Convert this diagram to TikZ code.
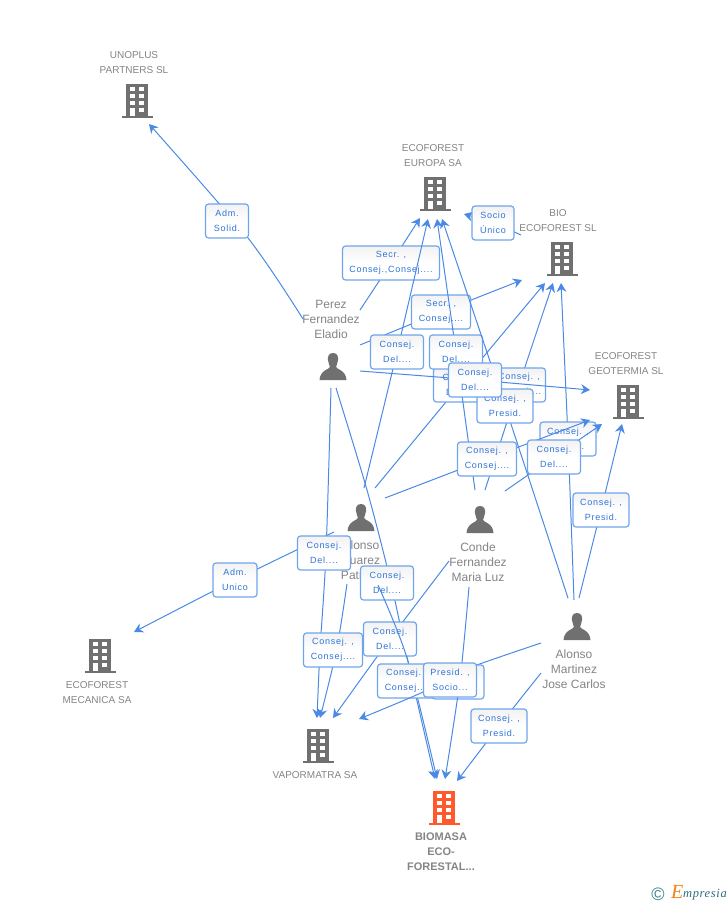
\documentclass[tikz,border=0pt]{standalone}
\usepackage{fontspec}
\setmainfont{Liberation Sans}
\newfontfamily\lblfont[LetterSpace=8]{Liberation Sans}
\newfontfamily\logofont[LetterSpace=5]{Liberation Serif}
\usetikzlibrary{arrows.meta}
\definecolor{edgeblue}{HTML}{4A8AE6}
\definecolor{boxblue}{HTML}{6FA5EC}
\definecolor{lblblue}{HTML}{2F74D8}
\definecolor{icongray}{HTML}{707070}
\definecolor{txtgray}{HTML}{858585}
\definecolor{bioorange}{HTML}{FF5A2C}
\definecolor{logoteal}{HTML}{3A7D8C}
\definecolor{logoink}{HTML}{2F6E7E}
\definecolor{logoorange}{HTML}{F08010}
\tikzset{
  x=1pt,y=-1pt,
  edge/.style={draw=edgeblue,line width=1pt,-{Stealth[length=9pt,width=10pt,inset=3pt]}},
  rolebox/.style={draw=boxblue,line width=1.2pt,rounded corners=3pt,top color=black!5,bottom color=white,middle color=white,
    minimum height=34pt,inner xsep=1pt,inner ysep=0pt,align=center,text=lblblue,font=\lblfont\fontsize{9}{15}\selectfont,
    execute at begin node={\rule{0pt}{10pt}}},
  coname/.style={text=txtgray,align=center,inner sep=0pt,font=\fontsize{10}{15}\selectfont},
  pername/.style={text=txtgray,align=center,inner sep=0pt,font=\fontsize{12}{15}\selectfont},
}
% cx, top y, colour
\newcommand\bldg[3]{\begin{scope}[shift={(#1,#2)}]
  \fill[#3] (-11,0) rectangle (11,32);
  \fill[#3] (-15.5,32) rectangle (15.5,34);
  \foreach \yy in {3.3,10,17}{\fill[white] (-7,\yy) rectangle (-2,\yy+4);\fill[white] (2,\yy) rectangle (7,\yy+4);}
  \fill[white] (2,23.5) rectangle (7,27.5);
  \fill[white] (-7,23.5) rectangle (-2,32);
\end{scope}}
% cx, top y
\newcommand\persn[2]{\begin{scope}[shift={(#1,#2)}]
  \fill[icongray] (0,0) .. controls (-4.5,0) and (-5.5,4) .. (-5,7) .. controls (-4.7,10) and (-3.5,12) .. (-3,14)
    .. controls (-3,16) and (-13,17) .. (-13.5,27) -- (13.5,27) .. controls (13,17) and (3,16) .. (3,14)
    .. controls (3.5,12) and (4.7,10) .. (5,7) .. controls (5.5,4) and (4.5,0) .. (0,0) -- cycle;
\end{scope}}
% start, end, via points, box position, width, text, box name
\newcommand\lnk[7]{\draw[edge] plot[smooth,tension=0.5] coordinates {(#1) #3 (#2)};
  \node[rolebox,minimum width=#5] (#7) at (#4) {#6};}
\begin{document}
\begin{tikzpicture}
\useasboundingbox (0,0) rectangle (728,905);
\fill[white] (0,0) rectangle (728,905);
% ports and free ends
\foreach \n/\p in {perezU/{303,319},perezB/{360,310},perezC/{360,345},perezD/{360,371},perezO/{331,388},perezR/{336,388},
  suarezE/{364,488},suarezG/{375,488},suarezJ/{385,498},suarezP/{334,532},suarezQ/{347,584},suarezS/{378,585},
  condeF/{475,490},condeH/{485,490},condeL/{505,491},condeV/{449,561},condeU/{469,587},
  martI/{568,598},martK/{574,600},martM/{579,598},martT/{541,643},martV/{541,673},bioN/{521,235},
  unoT/{149,124},euB/{420,218},euE/{428,219},euF/{437,219},euI/{442,219},euN/{464,214},
  bioC/{522,280},bioG/{545,283},bioH/{553,283},bioK/{561,283},
  geoD/{590,390},geoJ/{590,420},geoL/{602,424},geoM/{622,424},mecT/{134,632},
  vapO/{317,718},vapQ/{320,718},vapV/{333,718},vapT/{359,719},
  bmR/{435,779},bmS/{437,779},bmU/{445,779},bmV/{457,781}}
  {\coordinate (\n) at (\p);}
% companies
\bldg{137}{84}{icongray}
\node[coname] (unoplus) at (134,62.5) {UNOPLUS\\PARTNERS SL};
\bldg{435}{177}{icongray}
\node[coname] (europa) at (433,155.5) {ECOFOREST\\EUROPA SA};
\bldg{562}{242}{icongray}
\node[coname] (bio) at (558,220.5) {BIO\\ECOFOREST SL};
\bldg{628}{385}{icongray}
\node[coname] (geotermia) at (626,363.5) {ECOFOREST\\GEOTERMIA SL};
\bldg{100}{639}{icongray}
\node[coname] (mecanica) at (97,692.5) {ECOFOREST\\MECANICA SA};
\bldg{318}{729}{icongray}
\node[coname] (vapormatra) at (315,775) {VAPORMATRA SA};
\bldg{444}{791}{bioorange}
\node[coname,font=\bfseries\fontsize{11}{15}\selectfont] (biomasa) at (441,852) {BIOMASA\\ECO-\\FORESTAL...};
% persons
\persn{333}{353}
\node[pername] (perez) at (331,319) {Perez\\Fernandez\\Eladio};
\persn{361}{504}
\node[pername] (suarez) at (361,560) {Alonso\\Suarez\\Patricia};
\persn{480}{506}
\node[pername] (conde) at (478,562) {Conde\\Fernandez\\Maria Luz};
\persn{577}{613}
\node[pername] (martinez) at (574,669) {Alonso\\Martinez\\Jose Carlos};
% upper connectors
\lnk{perezU}{unoT}{(248,238)}{227,221}{43}{Adm. \\Solid.}{bA}
\lnk{suarezP}{mecT}{(235,580)}{235,580}{44}{Adm. \\Unico}{bP}
\lnk{perezB}{euB}{(391,263)}{391,263}{97}{Secr. , \\Consej.,Consej....}{bB}
\lnk{perezC}{bioC}{(441,312)}{441,312}{59}{Secr. , \\Consej....}{bC}
\lnk{suarezG}{bioG}{(460,385)}{460,385}{53}{Consej. \\Del....}{bG}
\lnk{condeH}{bioH}{(519,385)}{519,385}{53}{Consej. , \\Consej....}{bH}
\lnk{martK}{bioK}{(568,439)}{568,439}{56}{Consej. , \\Presid.}{bK}
\lnk{suarezE}{euE}{(397,352)}{397,352}{53}{Consej. \\Del....}{bE}
\lnk{condeF}{euF}{(456,352)}{456,352}{53}{Consej. \\Del....}{bF}
\lnk{martI}{euI}{(505,406)}{505,406}{56}{Consej. , \\Presid.}{bI}
\lnk{perezD}{geoD}{(475,380)}{475,380}{53}{Consej. \\Del....}{bD}
\lnk{suarezJ}{geoJ}{(487,459)}{487,459}{59}{Consej. , \\Consej....}{bJ}
\lnk{condeL}{geoL}{(554,457)}{554,457}{53}{Consej. \\Del....}{bL}
\lnk{martM}{geoM}{(601,510)}{601,510}{56}{Consej. , \\Presid.}{bM}
\lnk{bioN}{euN}{(493,223)}{493,223}{42}{Socio \\Único}{bN}
% lower connectors
\lnk{perezO}{vapO}{(326,553) (320,650)}{324,553}{53}{Consej. \\Del....}{bO}
\lnk{suarezQ}{vapQ}{(336.5,650)}{333,650}{59}{Consej. , \\Consej....}{bQ}
\lnk{perezR}{bmR}{(367,490) (391,583) (407,657)}{387,583}{53}{Consej. \\Del....}{bR}
\lnk{condeV}{vapV}{(390,639)}{390,639}{53}{Consej. \\Del....}{bV}
\lnk{suarezS}{bmS}{(407,658)}{407,681}{59}{Consej. , \\Consej....}{bS}
\lnk{martT}{vapT}{(458,672) (423,692)}{458,682}{52}{Consej. \\Del....}{bT}
\lnk{condeU}{bmU}{(460,680)}{450,680}{53}{Presid. , \\Socio...}{bU}
\lnk{martV}{bmV}{(499,726)}{499,726}{56}{Consej. , \\Presid.}{bVV}
% logo
\node[inner sep=0pt,text=logoteal,font=\fontsize{18}{18}\selectfont] (copyr) at (658,894) {©};
\node[inner sep=0pt,anchor=base west,text=logoorange,font=\itshape\logofont\fontsize{20}{20}\selectfont] (logoe) at (671,898) {E};
\node[inner sep=0pt,anchor=base west,text=logoink,font=\itshape\logofont\fontsize{12.5}{13}\selectfont] (logot) at (683,897) {mpresia};
\end{tikzpicture}
\end{document}
